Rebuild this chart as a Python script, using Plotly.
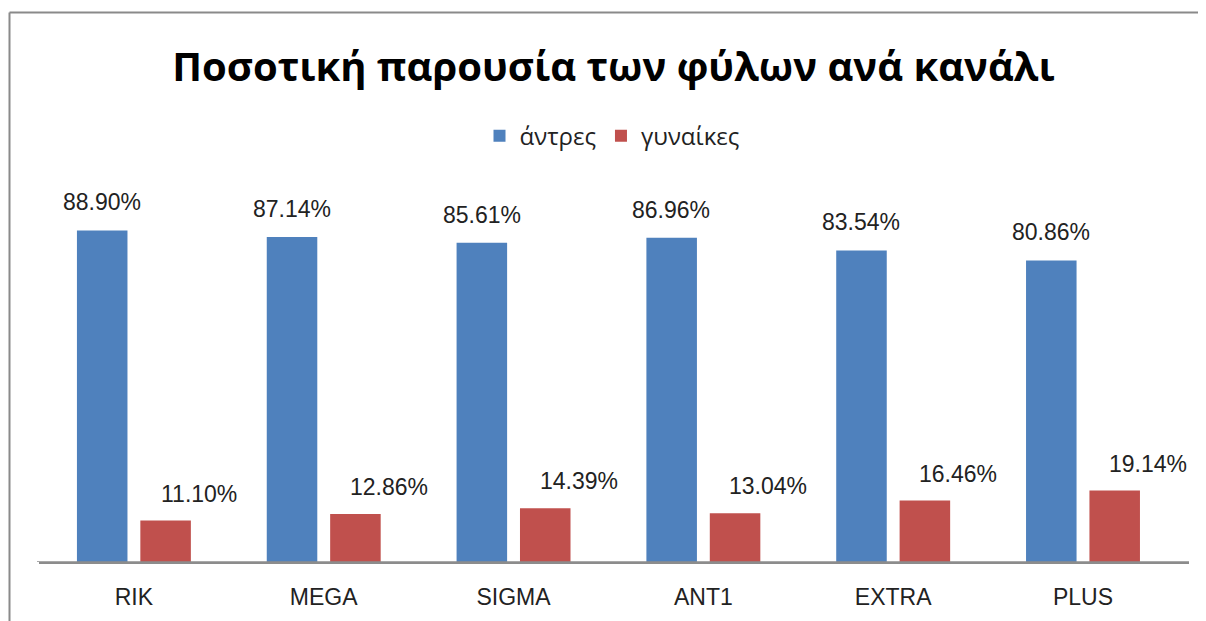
import plotly.graph_objects as go

channels = ["RIK", "MEGA", "SIGMA", "ANT1", "EXTRA", "PLUS"]
men = [88.90, 87.14, 85.61, 86.96, 83.54, 80.86]
women = [11.10, 12.86, 14.39, 13.04, 16.46, 19.14]
series_names = ["άντρες", "γυναίκες"]
title_text = "Ποσοτική παρουσία των φύλων ανά κανάλι"

BLUE = "#4F81BD"
RED = "#C0504D"
TXT = "#222222"
LABEL_FONT = dict(family="Liberation Sans, Arial, sans-serif", size=23, color=TXT)

# page has an 8px body margin; figure placed at (8, 8)
W, H = 1190, 613
L, R, T, B = 31, 9, 181, 59
PW = W - L - R

fig = go.Figure()
fig.add_trace(go.Bar(x=channels, y=men, name=series_names[0], marker_color=BLUE,
                     marker_line_width=0))
fig.add_trace(go.Bar(x=channels, y=women, name=series_names[1], marker_color=RED,
                     marker_line_width=0))

annotations = []
for c, v in zip(channels, men):
    annotations.append(dict(x=c, y=v, xref="x", yref="y", text=f"{v:.2f}%",
                            showarrow=False, xshift=-32, yshift=28,
                            yanchor="middle", xanchor="center", font=LABEL_FONT))
for c, v in zip(channels, women):
    annotations.append(dict(x=c, y=v, xref="x", yref="y", text=f"{v:.2f}%",
                            showarrow=False, xshift=65, yshift=27,
                            yanchor="middle", xanchor="center", font=LABEL_FONT))

fig.update_layout(
    width=W, height=H,
    margin=dict(l=L, r=R, t=T, b=B, autoexpand=False),
    paper_bgcolor="white", plot_bgcolor="white",
    barmode="group", bargap=0.332, bargroupgap=0.203,
    title=dict(text=f"<b>{title_text}</b>", x=605.5 / W, xanchor="center",
               y=1 - 59 / H, yanchor="middle", yref="container",
               font=dict(family="Open Sans, sans-serif", size=40, color="#000000")),
    legend=dict(orientation="h", x=(612 - 8 - L) / PW, xanchor="center", y=1.142,
                yanchor="middle",
                font=dict(family="Open Sans, sans-serif", size=24, color=TXT),
                itemwidth=30, tracegroupgap=0),
    xaxis=dict(showline=True, linecolor="#8c8c8c", linewidth=1.5, ticks="",
               ticklabelstandoff=14,
               tickfont=dict(family="Liberation Sans, Arial, sans-serif", size=23, color=TXT),
               showgrid=False, zeroline=False),
    yaxis=dict(range=[0, 100], visible=False, showgrid=False, zeroline=False),
    annotations=annotations,
    shapes=[
        dict(type="line", xref="paper", yref="paper", x0=(1.5 - L) / PW, x1=(1.5 - L) / PW,
             y0=1.473, y1=-0.2, line=dict(color="#8a8a8a", width=2)),
        dict(type="line", xref="paper", yref="paper", x0=(1.5 - L) / PW, x1=1.05,
             y0=1.473, y1=1.473, line=dict(color="#8a8a8a", width=2)),
        dict(type="line", xref="paper", yref="y", x0=(37 - 8 - L) / PW, x1=1.0,
             y0=0, y1=0, line=dict(color="#8c8c8c", width=1.5)),
    ],
)

fig.write_html("out.html")
